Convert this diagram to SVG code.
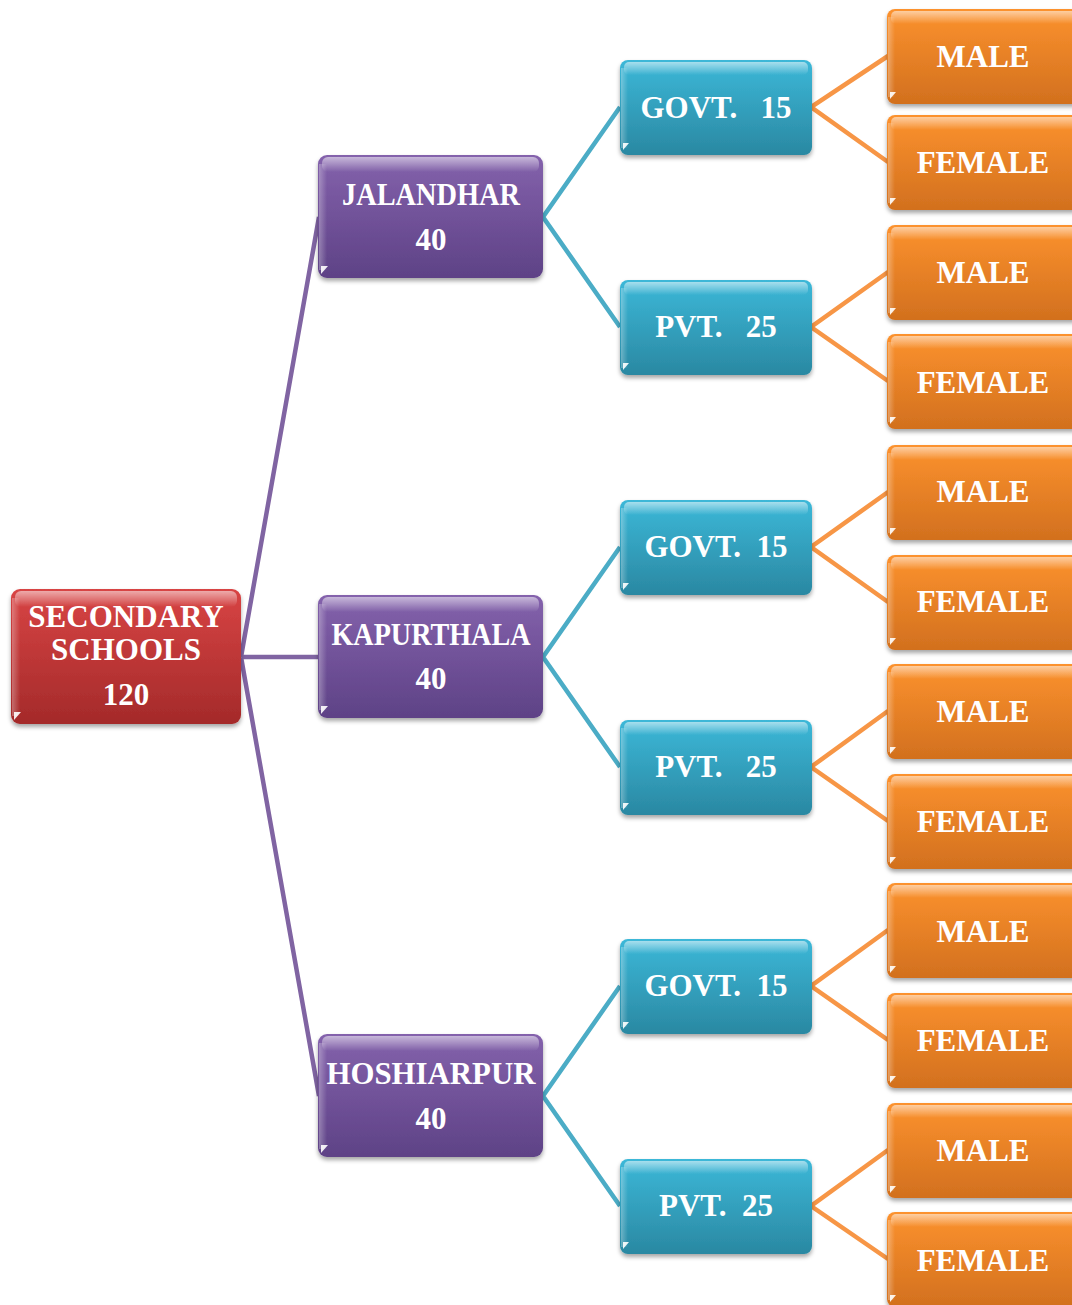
<svg xmlns="http://www.w3.org/2000/svg" width="1072" height="1305" viewBox="0 0 1072 1305">
<defs>
<linearGradient id="gRed" x1="0" y1="0" x2="0" y2="1"><stop offset="0" stop-color="#d84444"/><stop offset="1" stop-color="#a42a2a"/></linearGradient>
<linearGradient id="gPur" x1="0" y1="0" x2="0" y2="1"><stop offset="0" stop-color="#8462ac"/><stop offset="1" stop-color="#5e4286"/></linearGradient>
<linearGradient id="gTeal" x1="0" y1="0" x2="0" y2="1"><stop offset="0" stop-color="#3cb8d8"/><stop offset="1" stop-color="#2a88a2"/></linearGradient>
<linearGradient id="gOr" x1="0" y1="0" x2="0" y2="1"><stop offset="0" stop-color="#fc922e"/><stop offset="1" stop-color="#d2701e"/></linearGradient>
<linearGradient id="gGloss" x1="0" y1="0" x2="0" y2="1"><stop offset="0" stop-color="#ffffff" stop-opacity="0.55"/><stop offset="1" stop-color="#ffffff" stop-opacity="0"/></linearGradient>
<linearGradient id="gSide" x1="0" y1="0" x2="1" y2="0"><stop offset="0" stop-color="#ffffff" stop-opacity="0.3"/><stop offset="1" stop-color="#ffffff" stop-opacity="0"/></linearGradient>
<filter id="sh" x="-10%" y="-10%" width="120%" height="130%"><feDropShadow dx="0" dy="3" stdDeviation="2" flood-color="#000" flood-opacity="0.35"/></filter>
</defs>
<style>
.box{filter:url(#sh);}
.red{fill:url(#gRed);}
.pur{fill:url(#gPur);}
.teal{fill:url(#gTeal);}
.or{fill:url(#gOr);}
.gloss{fill:url(#gGloss);}
.side{fill:url(#gSide);}
.dot{fill:#ffffff;opacity:0.9;}
.t{font-family:"Liberation Serif","Times New Roman",serif;font-weight:bold;font-size:31px;fill:#ffffff;text-anchor:middle;white-space:pre;}
.c-pur{stroke:#8064a2;stroke-width:4.5;fill:none;}
.c-teal{stroke:#4bacc6;stroke-width:4.5;fill:none;}
.c-or{stroke:#f79646;stroke-width:4.5;fill:none;}
</style>
<rect width="1072" height="1305" fill="#ffffff"/>

<g id="connectors">
<path class="c-pur" d="M241,657 L319,217 M241,657 L319,657 M241,657 L319,1096"/>
<path class="c-teal" d="M620,107 L543,217 L620,327 M620,547 L543,657 L620,767 M620,986 L543,1096 L620,1206"/>
<path class="c-or" d="M888,56 L811,107 L888,162 M888,272 L811,327 L888,381 M888,492 L811,547 L888,602 M888,711 L811,767 L888,821 M888,930 L811,986 L888,1040 M888,1150 L811,1206 L888,1259"/>
</g>

<g id="root">
<rect class="box red" x="11" y="589" width="230" height="135" rx="9"/>
<rect class="gloss" x="15" y="591" width="222" height="16" rx="6"/>
<rect class="side" x="12" y="598" width="8" height="118"/>
<path class="dot" d="M14,712 h7 l-7,8 z"/>
<text class="t" x="126" y="627">SECONDARY</text>
<text class="t" x="126" y="660">SCHOOLS</text>
<text class="t" x="126" y="705">120</text>
</g>

<g id="jalandhar">
<rect class="box pur" x="318" y="155" width="225" height="123" rx="9"/>
<rect class="gloss" x="322" y="157" width="217" height="15" rx="6"/>
<rect class="side" x="319" y="164" width="8" height="106"/>
<path class="dot" d="M321,266 h7 l-7,8 z"/>
<text class="t" x="431" y="205" textLength="178" lengthAdjust="spacingAndGlyphs">JALANDHAR</text>
<text class="t" x="431" y="250">40</text>
</g>
<g id="kapurthala">
<rect class="box pur" x="318" y="595" width="225" height="123" rx="9"/>
<rect class="gloss" x="322" y="597" width="217" height="15" rx="6"/>
<rect class="side" x="319" y="604" width="8" height="106"/>
<path class="dot" d="M321,706 h7 l-7,8 z"/>
<text class="t" x="431" y="645" textLength="199" lengthAdjust="spacingAndGlyphs">KAPURTHALA</text>
<text class="t" x="431" y="689">40</text>
</g>
<g id="hoshiarpur">
<rect class="box pur" x="318" y="1034" width="225" height="123" rx="9"/>
<rect class="gloss" x="322" y="1036" width="217" height="15" rx="6"/>
<rect class="side" x="319" y="1043" width="8" height="106"/>
<path class="dot" d="M321,1145 h7 l-7,8 z"/>
<text class="t" x="431" y="1084" textLength="209" lengthAdjust="spacingAndGlyphs">HOSHIARPUR</text>
<text class="t" x="431" y="1129">40</text>
</g>

<g id="govt1">
<rect class="box teal" x="620" y="60" width="192" height="95" rx="8"/>
<rect class="gloss" x="624" y="62" width="184" height="13" rx="5"/>
<rect class="side" x="621" y="68" width="7" height="80"/>
<path class="dot" d="M623,143 h6 l-6,7 z"/>
<text class="t" x="716" y="118">GOVT.   15</text>
</g>
<g id="pvt1">
<rect class="box teal" x="620" y="280" width="192" height="95" rx="8"/>
<rect class="gloss" x="624" y="282" width="184" height="13" rx="5"/>
<rect class="side" x="621" y="288" width="7" height="80"/>
<path class="dot" d="M623,363 h6 l-6,7 z"/>
<text class="t" x="716" y="337">PVT.   25</text>
</g>
<g id="govt2">
<rect class="box teal" x="620" y="500" width="192" height="95" rx="8"/>
<rect class="gloss" x="624" y="502" width="184" height="13" rx="5"/>
<rect class="side" x="621" y="508" width="7" height="80"/>
<path class="dot" d="M623,583 h6 l-6,7 z"/>
<text class="t" x="716" y="557">GOVT.  15</text>
</g>
<g id="pvt2">
<rect class="box teal" x="620" y="720" width="192" height="95" rx="8"/>
<rect class="gloss" x="624" y="722" width="184" height="13" rx="5"/>
<rect class="side" x="621" y="728" width="7" height="80"/>
<path class="dot" d="M623,803 h6 l-6,7 z"/>
<text class="t" x="716" y="777">PVT.   25</text>
</g>
<g id="govt3">
<rect class="box teal" x="620" y="939" width="192" height="95" rx="8"/>
<rect class="gloss" x="624" y="941" width="184" height="13" rx="5"/>
<rect class="side" x="621" y="947" width="7" height="80"/>
<path class="dot" d="M623,1022 h6 l-6,7 z"/>
<text class="t" x="716" y="996">GOVT.  15</text>
</g>
<g id="pvt3">
<rect class="box teal" x="620" y="1159" width="192" height="95" rx="8"/>
<rect class="gloss" x="624" y="1161" width="184" height="13" rx="5"/>
<rect class="side" x="621" y="1167" width="7" height="80"/>
<path class="dot" d="M623,1242 h6 l-6,7 z"/>
<text class="t" x="716" y="1216">PVT.  25</text>
</g>

<g id="male1"><rect class="box or" x="887" y="9" width="195" height="95" rx="8"/><rect class="gloss" x="891" y="11" width="187" height="13" rx="5"/><rect class="side" x="888" y="17" width="7" height="80"/><path class="dot" d="M890,92 h6 l-6,7 z"/><text class="t" x="983" y="67">MALE</text></g>
<g id="female1"><rect class="box or" x="887" y="115" width="195" height="95" rx="8"/><rect class="gloss" x="891" y="117" width="187" height="13" rx="5"/><rect class="side" x="888" y="123" width="7" height="80"/><path class="dot" d="M890,198 h6 l-6,7 z"/><text class="t" x="983" y="173">FEMALE</text></g>
<g id="male2"><rect class="box or" x="887" y="225" width="195" height="95" rx="8"/><rect class="gloss" x="891" y="227" width="187" height="13" rx="5"/><rect class="side" x="888" y="233" width="7" height="80"/><path class="dot" d="M890,308 h6 l-6,7 z"/><text class="t" x="983" y="283">MALE</text></g>
<g id="female2"><rect class="box or" x="887" y="334" width="195" height="95" rx="8"/><rect class="gloss" x="891" y="336" width="187" height="13" rx="5"/><rect class="side" x="888" y="342" width="7" height="80"/><path class="dot" d="M890,417 h6 l-6,7 z"/><text class="t" x="983" y="393">FEMALE</text></g>
<g id="male3"><rect class="box or" x="887" y="445" width="195" height="95" rx="8"/><rect class="gloss" x="891" y="447" width="187" height="13" rx="5"/><rect class="side" x="888" y="453" width="7" height="80"/><path class="dot" d="M890,528 h6 l-6,7 z"/><text class="t" x="983" y="502">MALE</text></g>
<g id="female3"><rect class="box or" x="887" y="555" width="195" height="95" rx="8"/><rect class="gloss" x="891" y="557" width="187" height="13" rx="5"/><rect class="side" x="888" y="563" width="7" height="80"/><path class="dot" d="M890,638 h6 l-6,7 z"/><text class="t" x="983" y="612">FEMALE</text></g>
<g id="male4"><rect class="box or" x="887" y="664" width="195" height="95" rx="8"/><rect class="gloss" x="891" y="666" width="187" height="13" rx="5"/><rect class="side" x="888" y="672" width="7" height="80"/><path class="dot" d="M890,747 h6 l-6,7 z"/><text class="t" x="983" y="722">MALE</text></g>
<g id="female4"><rect class="box or" x="887" y="774" width="195" height="95" rx="8"/><rect class="gloss" x="891" y="776" width="187" height="13" rx="5"/><rect class="side" x="888" y="782" width="7" height="80"/><path class="dot" d="M890,857 h6 l-6,7 z"/><text class="t" x="983" y="832">FEMALE</text></g>
<g id="male5"><rect class="box or" x="887" y="883" width="195" height="95" rx="8"/><rect class="gloss" x="891" y="885" width="187" height="13" rx="5"/><rect class="side" x="888" y="891" width="7" height="80"/><path class="dot" d="M890,966 h6 l-6,7 z"/><text class="t" x="983" y="942">MALE</text></g>
<g id="female5"><rect class="box or" x="887" y="993" width="195" height="95" rx="8"/><rect class="gloss" x="891" y="995" width="187" height="13" rx="5"/><rect class="side" x="888" y="1001" width="7" height="80"/><path class="dot" d="M890,1076 h6 l-6,7 z"/><text class="t" x="983" y="1051">FEMALE</text></g>
<g id="male6"><rect class="box or" x="887" y="1103" width="195" height="95" rx="8"/><rect class="gloss" x="891" y="1105" width="187" height="13" rx="5"/><rect class="side" x="888" y="1111" width="7" height="80"/><path class="dot" d="M890,1186 h6 l-6,7 z"/><text class="t" x="983" y="1161">MALE</text></g>
<g id="female6"><rect class="box or" x="887" y="1212" width="195" height="95" rx="8"/><rect class="gloss" x="891" y="1214" width="187" height="13" rx="5"/><rect class="side" x="888" y="1220" width="7" height="80"/><path class="dot" d="M890,1295 h6 l-6,7 z"/><text class="t" x="983" y="1271">FEMALE</text></g>
</svg>
